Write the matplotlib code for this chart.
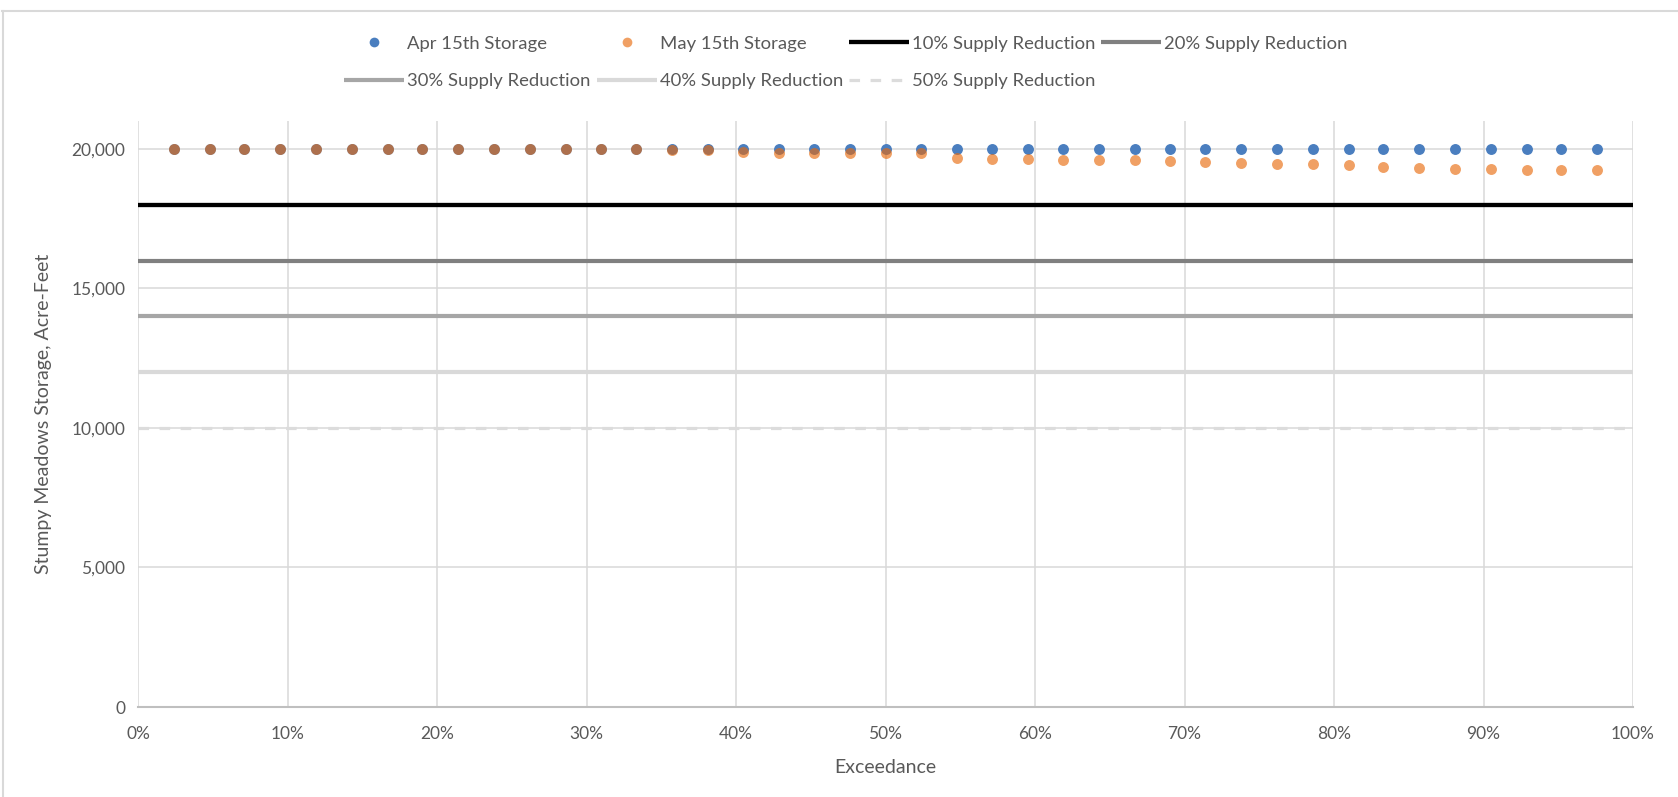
import matplotlib
matplotlib.use("Agg")
import matplotlib.pyplot as plt
from matplotlib.lines import Line2D
from matplotlib.ticker import FuncFormatter, PercentFormatter

plt.rcParams['font.family'] = ['Lato', 'DejaVu Sans']

# ---- data ----
exceedance = [0.024, 0.048, 0.071, 0.095, 0.119, 0.143, 0.167, 0.190, 0.214, 0.238,
              0.262, 0.286, 0.310, 0.333, 0.357, 0.381, 0.405, 0.429, 0.452, 0.476,
              0.500, 0.524, 0.548, 0.571, 0.595, 0.619, 0.643, 0.667, 0.690, 0.714,
              0.738, 0.762, 0.786, 0.810, 0.833, 0.857, 0.881, 0.905, 0.929, 0.952, 0.976]
apr_storage = [20000] * 41
may_storage = [20000, 20000, 20000, 20000, 20000, 20000, 20000, 20000, 20000, 20000,
               20000, 20000, 20000, 20000, 19960, 19960, 19880, 19870, 19870, 19860,
               19860, 19855, 19670, 19655, 19630, 19600, 19595, 19585, 19560, 19525,
               19510, 19465, 19460, 19440, 19335, 19310, 19275, 19265, 19260, 19250, 19240]
reduction_labels = ["10% Supply Reduction", "20% Supply Reduction", "30% Supply Reduction",
                    "40% Supply Reduction", "50% Supply Reduction"]
reduction_levels = [18000, 16000, 14000, 12000, 10000]
reduction_span = [0.0, 1.0]

# ---- styles ----
red_colors = ["#000000", "#808080", "#A6A6A6", "#D9D9D9", "#DCDCDC"]
red_styles = ["-", "-", "-", "-", (0, (3.3, 3.3))]
red_widths = [3.1, 3.0, 3.0, 3.0, 2.3]
blue = "#4A7EBF"
orange = "#E8690A"
text_col = "#595959"
grid_col = "#D9D9D9"

W, H = 1678, 797
fig = plt.figure(figsize=(W / 100, H / 100), dpi=100)
ax = fig.add_axes([138 / W, 1 - 707 / H, (1633 - 138) / W, (707 - 121) / H])

ax.set_xlim(0, 1)
ax.set_ylim(0, 21000)
ax.set_xticks([i / 10 for i in range(11)])
ax.set_yticks([0, 5000, 10000, 15000, 20000])
ax.xaxis.set_major_formatter(PercentFormatter(1.0, decimals=0))
ax.yaxis.set_major_formatter(FuncFormatter(lambda v, p: f"{int(v):,}"))
ax.grid(True, color=grid_col, linewidth=1.1)
ax.set_axisbelow(True)
for s in ["top", "right", "left"]:
    ax.spines[s].set_visible(False)
ax.spines["bottom"].set_color("#BFBFBF")
ax.spines["bottom"].set_linewidth(1.5)
ax.tick_params(axis="both", length=0, labelsize=12.5, labelcolor=text_col)
ax.tick_params(axis="y", pad=9)
ax.tick_params(axis="x", pad=14)

handles = {}
for lab, lvl, c, ls, lw in zip(reduction_labels, reduction_levels, red_colors, red_styles, red_widths):
    ln, = ax.plot(reduction_span, [lvl, lvl], color=c, linestyle=ls, linewidth=lw,
                  solid_capstyle="butt", zorder=2, clip_on=False, label=lab)
    handles[lab] = ln

ax.scatter(exceedance, apr_storage, s=62, color=blue, zorder=3, linewidths=0)
ax.scatter(exceedance, may_storage, s=62, color=orange, alpha=0.63, zorder=4, linewidths=0)

ax.set_xlabel("Exceedance", fontsize=14, color=text_col, labelpad=12)
ax.set_ylabel("Stumpy Meadows Storage, Acre-Feet", fontsize=14, color=text_col, labelpad=14)

h_apr = Line2D([], [], marker="o", linestyle="none", color=blue, markersize=7, markeredgewidth=0)
h_may = Line2D([], [], marker="o", linestyle="none", color=orange, alpha=0.63, markersize=7, markeredgewidth=0)
order_h = [h_apr, handles[reduction_labels[2]], h_may, handles[reduction_labels[3]],
           handles[reduction_labels[0]], handles[reduction_labels[4]], handles[reduction_labels[1]]]
order_l = ["Apr 15th Storage", reduction_labels[2], "May 15th Storage", reduction_labels[3],
           reduction_labels[0], reduction_labels[4], reduction_labels[1]]
leg = fig.legend(order_h, order_l, loc="center", bbox_to_anchor=(846 / W, 1 - 62.5 / H),
                 ncol=4, frameon=False, fontsize=13.3, handlelength=3.25, handletextpad=0.16,
                 columnspacing=0.33, labelspacing=1.15, borderpad=0)
for t in leg.get_texts():
    t.set_color(text_col)

# chart-area border (top and left edges visible)
fig.add_artist(Line2D([2 / W, 1], [1 - 11 / H, 1 - 11 / H], color="#D9D9D9", linewidth=1.5,
                      transform=fig.transFigure))
fig.add_artist(Line2D([2.5 / W, 2.5 / W], [0, 1 - 11 / H], color="#D9D9D9", linewidth=1.5,
                      transform=fig.transFigure))

fig.savefig("out.png", dpi=100, facecolor="white")
